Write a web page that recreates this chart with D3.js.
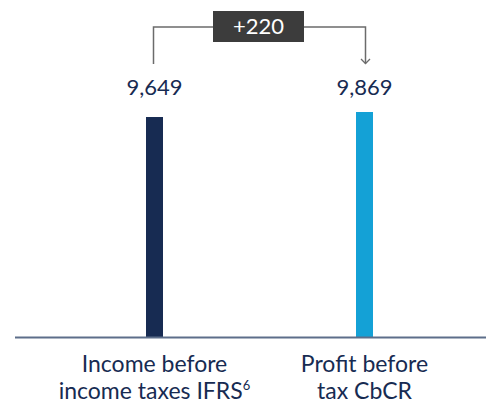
<!DOCTYPE html>
<html>
<head>
<meta charset="utf-8">
<script src="https://cdn.jsdelivr.net/npm/d3@7"></script>
<style>
  body { margin: 0; background: #fff; }
  text { font-family: Lato, "Noto Sans", sans-serif; }
</style>
</head>
<body>
<div id="chart"></div>
<script>
const categories = ["Income before|income taxes IFRS", "Profit before|tax CbCR"];
const values = [9649, 9869];
const barColors = ["#172b52", "#14a1d6"];
const deltaLabel = "+220";

const width = 486, height = 401;
const baseY = 337;

const svg = d3.select("#chart")
    .append("svg")
    .attr("width", width)
    .attr("height", height);

const x = d3.scalePoint()
    .domain(categories)
    .range([154.5, 364.5]);

const y = d3.scaleLinear()
    .domain([0, d3.max(values)])
    .range([baseY, 112]);

const barW = 17;

svg.selectAll("rect.bar")
    .data(categories)
    .join("rect")
    .attr("class", "bar")
    .attr("x", d => x(d) - barW / 2)
    .attr("width", barW)
    .attr("y", (d, i) => y(values[i]))
    .attr("height", (d, i) => baseY - y(values[i]))
    .attr("fill", (d, i) => barColors[i]);

// baseline
svg.append("line")
    .attr("x1", 15).attr("x2", 486)
    .attr("y1", baseY + 0.5).attr("y2", baseY + 0.5)
    .attr("stroke", "#5d6e8a")
    .attr("stroke-width", 2);

// value labels
svg.selectAll("text.val")
    .data(categories)
    .join("text")
    .attr("class", "val")
    .attr("x", d => x(d))
    .attr("y", 94.5)
    .attr("text-anchor", "middle")
    .attr("fill", "#172b52")
    .style("font-size", "22px")
    .text((d, i) => d3.format(",")(values[i]));

// category labels
const cat = svg.selectAll("text.cat")
    .data(categories)
    .join("text")
    .attr("class", "cat")
    .attr("text-anchor", "middle")
    .attr("fill", "#172b52")
    .style("font-size", "23px");

cat.each(function(d, i) {
    const lines = d.split("|");
    const t = d3.select(this);
    lines.forEach((l, j) => {
        const ts = t.append("tspan")
            .attr("x", x(d))
            .attr("y", 371.5 + j * 27)
            .text(l);
        if (i === 0 && j === 1) {
            ts.append("tspan")
                .attr("dy", -9)
                .style("font-size", "13px")
                .text("6");
        }
    });
});

// bracket with delta
const x1 = x(categories[0]) - 1, x2 = x(categories[1]) + 1;
const topY = 27, endY = 64;
const boxL = 213, boxR = 304;

svg.append("path")
    .attr("d", `M${x1},${endY}V${topY}H${boxL}M${boxR},${topY}H${x2}V${endY - 0.5}`)
    .attr("fill", "none")
    .attr("stroke", "#6b6b6b")
    .attr("stroke-width", 1.5);

svg.append("path")
    .attr("d", `M${x2 - 4.5},${endY - 5}L${x2},${endY - 0.5}L${x2 + 4.5},${endY - 5}`)
    .attr("fill", "none")
    .attr("stroke", "#6b6b6b")
    .attr("stroke-width", 1.3);

svg.append("rect")
    .attr("x", boxL).attr("y", 11)
    .attr("width", boxR - boxL).attr("height", 31)
    .attr("fill", "#3c3c3c");

svg.append("text")
    .attr("x", (boxL + boxR) / 2)
    .attr("y", 34)
    .attr("text-anchor", "middle")
    .attr("fill", "#fff")
    .style("font-size", "22px")
    .text(deltaLabel);
</script>
</body>
</html>
